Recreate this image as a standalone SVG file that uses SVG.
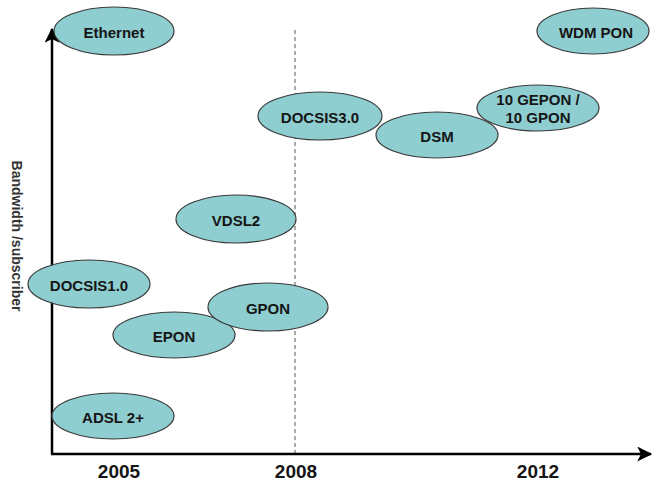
<svg xmlns="http://www.w3.org/2000/svg" width="654" height="484" viewBox="0 0 654 484">
  <style>
    .node ellipse { fill: #8ecdd0; stroke: #3a3a3a; stroke-width: 1.2; }
    .node text { font-family: "Liberation Sans", Arial, sans-serif; font-weight: bold; font-size: 15px; fill: #151515; text-anchor: middle; dominant-baseline: central; }
    .axis { stroke: #000; stroke-width: 2.5; fill: none; }
    .year { font-family: "Liberation Sans", Arial, sans-serif; font-weight: bold; font-size: 19px; fill: #151515; text-anchor: middle; }
    .ylabel { font-family: "Liberation Sans", Arial, sans-serif; font-weight: bold; font-size: 14px; fill: #333; text-anchor: middle; }
  </style>
  <defs>
    <marker id="arrow" viewBox="0 0 12 12" refX="11" refY="6" markerWidth="6" markerHeight="6" orient="auto" markerUnits="strokeWidth">
      <path d="M0,0 L12,6 L0,12 L3,6 Z" fill="#000"/>
    </marker>
  </defs>
  <rect width="654" height="484" fill="#fff"/>

  <g id="connectors">
    <!-- 2008 divider -->
    <line x1="295" y1="30" x2="295" y2="453" stroke="#555" stroke-width="1" stroke-dasharray="4,3"/>
    <!-- axes -->
    <line class="axis" x1="52" y1="454" x2="52" y2="29" marker-end="url(#arrow)"/>
    <line class="axis" x1="51" y1="454" x2="651" y2="454" marker-end="url(#arrow)"/>
  </g>

  <text class="ylabel" transform="translate(12,236) rotate(90)">Bandwidth /subscriber</text>

  <text class="year" x="119" y="478">2005</text>
  <text class="year" x="296" y="478">2008</text>
  <text class="year" x="538" y="478">2012</text>

  <g id="ethernet" class="node"><ellipse cx="114" cy="31" rx="60" ry="24"/><text x="114" y="32">Ethernet</text></g>
  <g id="wdm-pon" class="node"><ellipse cx="593" cy="31" rx="56" ry="23"/><text x="596" y="32">WDM PON</text></g>
  <g id="docsis30" class="node"><ellipse cx="320" cy="116" rx="62" ry="24"/><text x="320" y="117">DOCSIS3.0</text></g>
  <g id="dsm" class="node"><ellipse cx="437" cy="135" rx="61" ry="23"/><text x="437" y="136">DSM</text></g>
  <g id="gepon" class="node"><ellipse cx="538" cy="108" rx="61" ry="23"/><text x="538" y="99">10 GEPON /</text><text x="538" y="117">10 GPON</text></g>
  <g id="vdsl2" class="node"><ellipse cx="236" cy="219" rx="60" ry="24"/><text x="236" y="220">VDSL2</text></g>
  <g id="docsis10" class="node"><ellipse cx="89" cy="284" rx="61" ry="24"/><text x="89" y="285">DOCSIS1.0</text></g>
  <g id="epon" class="node"><ellipse cx="174" cy="335" rx="61" ry="23"/><text x="174" y="336">EPON</text></g>
  <g id="gpon" class="node"><ellipse cx="268" cy="307" rx="60" ry="24"/><text x="268" y="308">GPON</text></g>
  <g id="adsl2plus" class="node"><ellipse cx="113" cy="416" rx="61" ry="23"/><text x="113" y="417">ADSL 2+</text></g>
</svg>
